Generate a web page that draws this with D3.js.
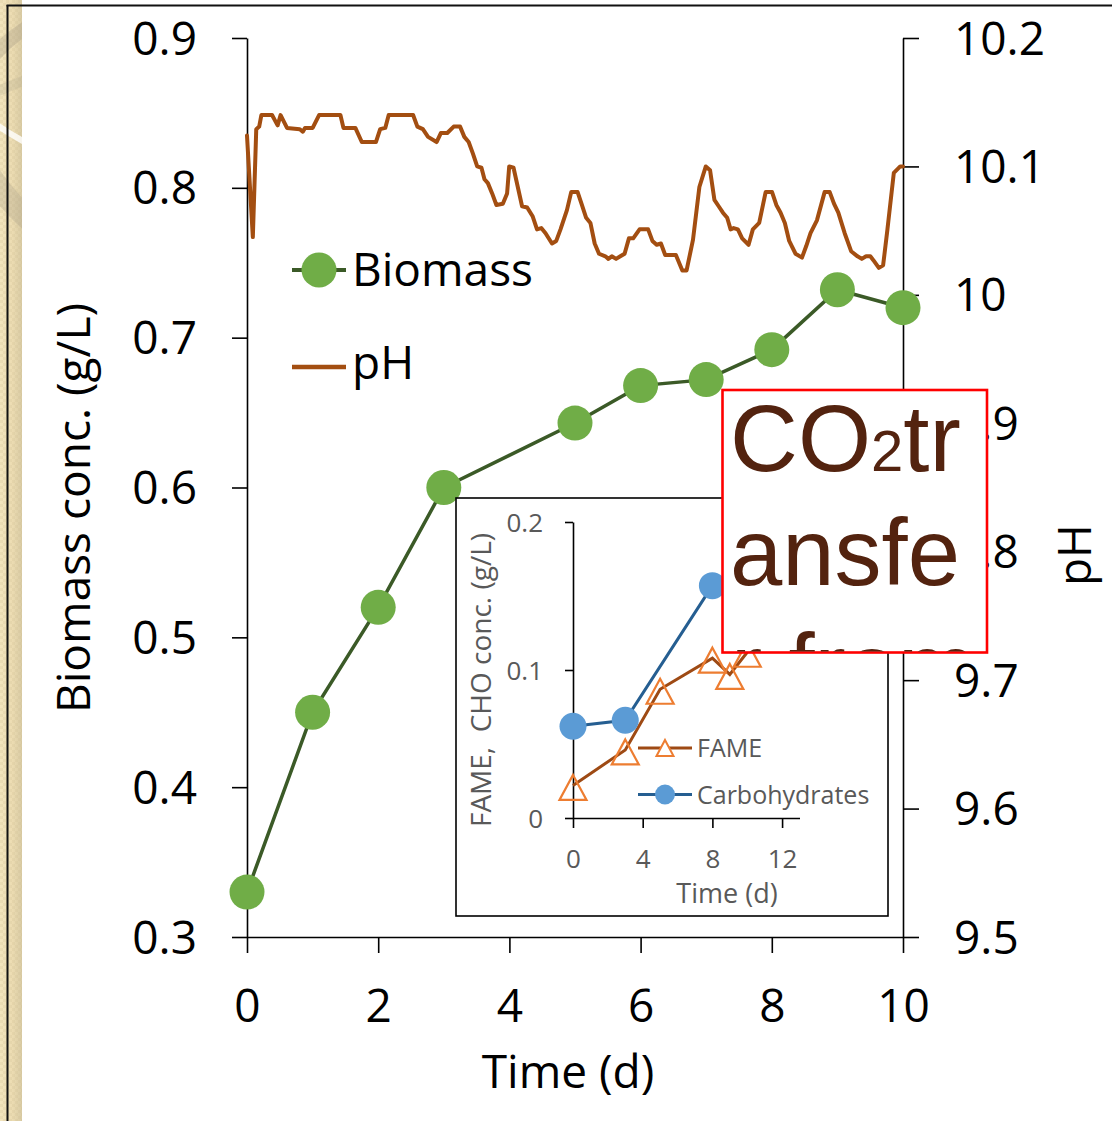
<!DOCTYPE html>
<html>
<head>
<meta charset="utf-8">
<script src="https://cdn.jsdelivr.net/npm/d3@7"></script>
<style>
  html, body { margin: 0; padding: 0; background: #ffffff; }
  svg { display: block; }
</style>
</head>
<body>
<svg id="chart" width="1112" height="1121"></svg>
<script>
// ---- Biomass (left axis) ----
const biomassTime = [0, 1, 2, 3, 5, 6, 7, 8, 9, 10];
const biomassConc = [0.33, 0.45, 0.52, 0.60, 0.643, 0.668, 0.672, 0.692, 0.732, 0.72];

// ---- pH log (right axis) ----
const phTime = [0,0.089,0.141,0.186,0.219,0.382,0.467,0.512,0.610,0.805,0.851,0.884,1.001,1.099,1.424,1.470,1.652,1.750,1.965,2.030,2.108,2.160,2.532,2.597,2.681,2.760,2.890,2.955,3.053,3.151,3.248,3.313,3.379,3.444,3.509,3.574,3.620,3.672,3.737,3.802,3.900,3.965,3.997,4.063,4.128,4.193,4.271,4.356,4.421,4.486,4.551,4.649,4.714,4.779,4.877,4.942,5.040,5.105,5.170,5.235,5.300,5.366,5.463,5.509,5.561,5.626,5.691,5.756,5.822,5.887,5.984,6.115,6.180,6.245,6.310,6.375,6.538,6.636,6.701,6.799,6.896,6.994,7.059,7.125,7.190,7.255,7.320,7.372,7.418,7.483,7.548,7.646,7.711,7.808,7.906,8.004,8.069,8.134,8.199,8.265,8.362,8.460,8.525,8.590,8.688,8.805,8.883,8.948,9.014,9.111,9.209,9.307,9.372,9.437,9.502,9.548,9.632,9.697,9.763,9.860,9.958,10.0];
const phValue = [10.124,10.045,10.129,10.131,10.140,10.140,10.132,10.140,10.130,10.129,10.127,10.130,10.130,10.140,10.140,10.130,10.130,10.119,10.119,10.129,10.130,10.140,10.140,10.131,10.129,10.123,10.119,10.126,10.126,10.131,10.131,10.123,10.119,10.110,10.100,10.099,10.090,10.087,10.079,10.070,10.071,10.079,10.100,10.099,10.084,10.069,10.068,10.061,10.051,10.052,10.048,10.040,10.042,10.051,10.066,10.080,10.080,10.070,10.060,10.056,10.040,10.032,10.030,10.028,10.030,10.028,10.030,10.032,10.044,10.044,10.051,10.051,10.042,10.039,10.040,10.031,10.031,10.019,10.019,10.043,10.084,10.100,10.097,10.074,10.069,10.064,10.060,10.051,10.052,10.051,10.044,10.039,10.051,10.056,10.080,10.080,10.070,10.064,10.056,10.042,10.032,10.029,10.038,10.048,10.058,10.080,10.080,10.071,10.064,10.048,10.034,10.030,10.028,10.030,10.030,10.027,10.021,10.023,10.051,10.095,10.100,10.100];

// ---- Inset: FAME and carbohydrates ----
const fameTime = [0, 3, 5, 8, 9, 10];
const fameConc = [0.022, 0.046, 0.087, 0.108, 0.097, 0.112];
const choTime = [0, 3, 8];
const choConc = [0.062, 0.066, 0.157];

// ---- Tick labels ----
const timeTicks = [0, 2, 4, 6, 8, 10];
const biomassTicks = [0.3, 0.4, 0.5, 0.6, 0.7, 0.8, 0.9];
const phTicks = [9.5, 9.6, 9.7, 9.8, 9.9, 10.0, 10.1, 10.2];
const insetTimeTicks = [0, 4, 8, 12];
const insetConcTicks = [0, 0.1, 0.2];

// ---- Text ----
const calloutLines = ["CO", "ansfe", "r from"];

const FONT = "'Open Sans', 'Noto Sans', sans-serif";
const svg = d3.select("#chart");
const defs = svg.append("defs");

// ---------- slide border strip ----------
const grad = defs.append("linearGradient").attr("id", "stripGrad")
  .attr("x1", 0).attr("x2", 1).attr("y1", 0).attr("y2", 0);
grad.append("stop").attr("offset", "0%").attr("stop-color", "#f2e4bd");
grad.append("stop").attr("offset", "55%").attr("stop-color", "#ecdcb2");
grad.append("stop").attr("offset", "100%").attr("stop-color", "#d9cba4");

const pat = defs.append("pattern").attr("id", "stripTex")
  .attr("width", 6).attr("height", 6).attr("patternUnits", "userSpaceOnUse");
pat.append("rect").attr("width", 3).attr("height", 3).attr("fill", "#c9b88a").attr("opacity", 0.18);
pat.append("rect").attr("x", 3).attr("y", 3).attr("width", 3).attr("height", 3).attr("fill", "#c9b88a").attr("opacity", 0.18);

defs.append("clipPath").attr("id", "stripClip")
  .append("rect").attr("x", 0).attr("y", 0).attr("width", 22).attr("height", 1121);

const strip = svg.append("g").attr("clip-path", "url(#stripClip)");
strip.append("rect").attr("width", 22).attr("height", 1121).attr("fill", "url(#stripGrad)");
strip.append("rect").attr("width", 22).attr("height", 1121).attr("fill", "url(#stripTex)");
const swoosh = [
  { d: "M-10,60 Q10,35 40,20", c: "#a89f88", w: 14, o: 0.35 },
  { d: "M-10,120 Q10,135 40,150", c: "#ffffff", w: 6, o: 0.8 },
  { d: "M-10,175 Q10,205 40,230", c: "#a89f88", w: 22, o: 0.3 },
  { d: "M-10,95 Q10,85 40,75", c: "#b0a68c", w: 10, o: 0.25 }
];
strip.selectAll("path.swoosh").data(swoosh).join("path")
  .attr("class", "swoosh")
  .attr("d", d => d.d).attr("fill", "none")
  .attr("stroke", d => d.c).attr("stroke-width", d => d.w).attr("opacity", d => d.o);

// slide frame lines
svg.append("line").attr("x1", 7.5).attr("x2", 7.5).attr("y1", 5).attr("y2", 1121)
  .attr("stroke", "#111").attr("stroke-width", 2);
svg.append("line").attr("x1", 6.5).attr("x2", 1112).attr("y1", 5.5).attr("y2", 5.5)
  .attr("stroke", "#111").attr("stroke-width", 2);

// ---------- main chart ----------
const x = d3.scaleLinear().domain([0, 10]).range([247, 903]);
const yL = d3.scaleLinear().domain([0.3, 0.9]).range([937, 38]);
const yR = d3.scaleLinear().domain([9.5, 10.2]).range([937, 38]);

function styleAxis(g, size, color, width) {
  g.attr("font-family", FONT).attr("font-size", size);
  g.selectAll("path.domain").attr("stroke", color).attr("stroke-width", width);
  g.selectAll(".tick line").attr("stroke", color).attr("stroke-width", width);
  g.selectAll(".tick text").attr("fill", color);
}

const axL = svg.append("g").attr("transform", "translate(247,0)")
  .call(d3.axisLeft(yL).tickValues(biomassTicks).tickSize(15).tickSizeOuter(0)
    .tickPadding(35).tickFormat(d3.format(".1f")));
styleAxis(axL, 46, "#000", 1.6);
axL.selectAll(".tick text").attr("dy", "0.35em");

const axR = svg.append("g").attr("transform", "translate(903,0)")
  .call(d3.axisRight(yR).tickValues(phTicks).tickSize(16).tickSizeOuter(0)
    .tickPadding(35).tickFormat(d => d === 10 ? "10" : d3.format(".1f")(d)));
styleAxis(axR, 46, "#000", 1.6);
axR.selectAll(".tick text").attr("dy", "0.35em");

const axB = svg.append("g").attr("transform", "translate(0,937)")
  .call(d3.axisBottom(x).tickValues(timeTicks).tickSize(16).tickSizeOuter(0)
    .tickPadding(36).tickFormat(d3.format("d")));
styleAxis(axB, 46, "#000", 1.6);

// axis titles
svg.append("text").attr("transform", "translate(90,508) rotate(-90)")
  .attr("text-anchor", "middle").attr("font-family", FONT).attr("font-size", 46)
  .attr("fill", "#000").text("Biomass conc. (g/L)");
svg.append("text").attr("transform", "translate(1091,555) rotate(-90)")
  .attr("text-anchor", "middle").attr("font-family", FONT).attr("font-size", 46)
  .attr("fill", "#000").text("pH");
svg.append("text").attr("x", 568).attr("y", 1088)
  .attr("text-anchor", "middle").attr("font-family", FONT).attr("font-size", 46)
  .attr("fill", "#000").text("Time (d)");

// pH trace
const PH_COLOR = "#a34e11";
const phData = phTime.map((t, i) => ({ t, v: phValue[i] }));
svg.append("path").datum(phData)
  .attr("d", d3.line().x(d => x(d.t)).y(d => yR(d.v)))
  .attr("fill", "none").attr("stroke", PH_COLOR).attr("stroke-width", 4)
  .attr("stroke-linejoin", "round").attr("stroke-linecap", "round");

// biomass series
const BIO_LINE = "#3b5a27", BIO_FILL = "#70ad47";
const bioData = biomassTime.map((t, i) => ({ t, v: biomassConc[i] }));
svg.append("path").datum(bioData)
  .attr("d", d3.line().x(d => x(d.t)).y(d => yL(d.v)))
  .attr("fill", "none").attr("stroke", BIO_LINE).attr("stroke-width", 3.5);
svg.selectAll("circle.bio").data(bioData).join("circle")
  .attr("class", "bio")
  .attr("cx", d => x(d.t)).attr("cy", d => yL(d.v)).attr("r", 17.5)
  .attr("fill", BIO_FILL);

// legend
const leg = svg.append("g").attr("font-family", FONT).attr("font-size", 46).attr("fill", "#000");
leg.append("line").attr("x1", 292).attr("x2", 346).attr("y1", 270).attr("y2", 270)
  .attr("stroke", BIO_LINE).attr("stroke-width", 4);
leg.append("circle").attr("cx", 319).attr("cy", 270).attr("r", 17.5).attr("fill", BIO_FILL);
leg.append("text").attr("x", 352).attr("y", 286).text("Biomass");
leg.append("line").attr("x1", 292).attr("x2", 346).attr("y1", 367).attr("y2", 367)
  .attr("stroke", PH_COLOR).attr("stroke-width", 4.5);
leg.append("text").attr("x", 352).attr("y", 379).text("pH");

// ---------- inset chart ----------
const inset = svg.append("g");
inset.append("rect").attr("x", 456).attr("y", 498).attr("width", 432).attr("height", 418)
  .attr("fill", "#fff").attr("stroke", "#000").attr("stroke-width", 1.6);

const xi = d3.scaleLinear().domain([0, 13]).range([573, 799.5]);
const yi = d3.scaleLinear().domain([0, 0.2]).range([818, 522]);
const GREY = "#595959";
const INSET_FONT = 26;

const axIL = inset.append("g").attr("transform", "translate(573,0)")
  .call(d3.axisLeft(yi).tickValues(insetConcTicks).tickSize(8).tickSizeOuter(0)
    .tickPadding(22).tickFormat(d => d === 0 ? "0" : d3.format(".1f")(d)));
styleAxis(axIL, INSET_FONT, "#000", 1.6);
axIL.selectAll(".tick text").attr("fill", GREY).attr("dy", "0.35em");

const axIB = inset.append("g").attr("transform", "translate(0,818)")
  .call(d3.axisBottom(xi).tickValues(insetTimeTicks).tickSize(10).tickSizeOuter(0)
    .tickPadding(22).tickFormat(d3.format("d")));
styleAxis(axIB, INSET_FONT, "#000", 1.6);
axIB.selectAll(".tick text").attr("fill", GREY);

inset.append("text").attr("transform", "translate(491,680) rotate(-90)")
  .attr("text-anchor", "middle").attr("font-family", FONT).attr("font-size", 28)
  .attr("fill", GREY).attr("xml:space", "preserve").text("FAME,  CHO conc. (g/L)");
inset.append("text").attr("x", 727).attr("y", 903)
  .attr("text-anchor", "middle").attr("font-family", FONT).attr("font-size", 27)
  .attr("fill", GREY).text("Time (d)");

// triangle marker centred on its box
const triangle = (w, h) => ({
  draw(ctx) {
    ctx.moveTo(0, -h / 2);
    ctx.lineTo(w / 2, h / 2);
    ctx.lineTo(-w / 2, h / 2);
    ctx.closePath();
  }
});

const FAME_LINE = "#9e4a14", FAME_MARK = "#ed7d31";
const CHO_LINE = "#255e91", CHO_MARK = "#5b9bd5";
const fameData = fameTime.map((t, i) => ({ t, v: fameConc[i] }));
const choData = choTime.map((t, i) => ({ t, v: choConc[i] }));

inset.append("path").datum(choData)
  .attr("d", d3.line().x(d => xi(d.t)).y(d => yi(d.v)))
  .attr("fill", "none").attr("stroke", CHO_LINE).attr("stroke-width", 3);
inset.append("path").datum(fameData)
  .attr("d", d3.line().x(d => xi(d.t)).y(d => yi(d.v)))
  .attr("fill", "none").attr("stroke", FAME_LINE).attr("stroke-width", 3);
inset.selectAll("circle.cho").data(choData).join("circle")
  .attr("class", "cho")
  .attr("cx", d => xi(d.t)).attr("cy", d => yi(d.v)).attr("r", 13.5).attr("fill", CHO_MARK);
inset.selectAll("path.fame").data(fameData).join("path")
  .attr("class", "fame")
  .attr("transform", d => `translate(${xi(d.t)},${yi(d.v) + 2})`)
  .attr("d", d3.symbol().type(triangle(27, 25))())
  .attr("fill", "none").attr("stroke", FAME_MARK).attr("stroke-width", 2.2);

// inset legend
const il = inset.append("g").attr("font-family", FONT).attr("font-size", 25).attr("fill", GREY);
il.append("line").attr("x1", 638).attr("x2", 692).attr("y1", 748).attr("y2", 748)
  .attr("stroke", FAME_LINE).attr("stroke-width", 3);
il.append("path").attr("transform", "translate(665,748)")
  .attr("d", d3.symbol().type(triangle(17, 16))())
  .attr("fill", "#fff").attr("stroke", FAME_MARK).attr("stroke-width", 2);
il.append("text").attr("x", 697).attr("y", 757).text("FAME");
il.append("line").attr("x1", 638).attr("x2", 692).attr("y1", 794.5).attr("y2", 794.5)
  .attr("stroke", CHO_LINE).attr("stroke-width", 3);
il.append("circle").attr("cx", 665).attr("cy", 794.5).attr("r", 10).attr("fill", CHO_MARK);
il.append("text").attr("x", 697).attr("y", 803.5).text("Carbohydrates");

// ---------- callout box ----------
defs.append("clipPath").attr("id", "calloutClip")
  .append("rect").attr("x", 723.5).attr("y", 391).attr("width", 262.5).attr("height", 260.5);
const callout = svg.append("g");
callout.append("rect").attr("x", 722.5).attr("y", 390).attr("width", 264.5).attr("height", 262.5)
  .attr("fill", "#fff").attr("stroke", "#ff0000").attr("stroke-width", 2.6);
const ct = callout.append("g").attr("clip-path", "url(#calloutClip)")
  .attr("font-family", "'Liberation Sans', Arial, sans-serif").attr("font-size", 94)
  .attr("fill", "#53230f");
const l1 = ct.append("text").attr("x", 730).attr("y", 471);
l1.append("tspan").text(calloutLines[0]);
l1.append("tspan").attr("font-size", 58).text("2");
l1.append("tspan").text("tr");
ct.append("text").attr("x", 730).attr("y", 585).text(calloutLines[1]);
ct.append("text").attr("x", 731).attr("y", 699.5).attr("xml:space", "preserve").text(calloutLines[2]);
</script>
</body>
</html>
